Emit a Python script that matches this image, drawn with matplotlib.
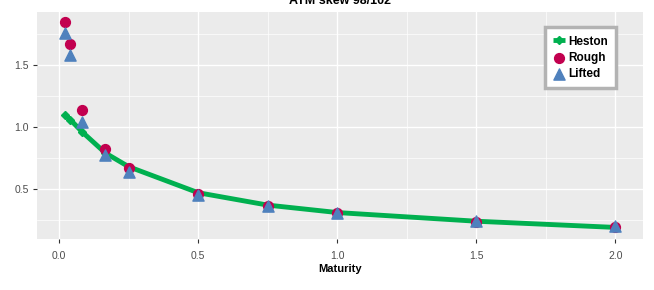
import matplotlib.pyplot as plt
from matplotlib.ticker import MultipleLocator

# ATM skew 98/102 by maturity
maturity = [0.02, 0.04, 1/12, 1/6, 0.25, 0.5, 0.75, 1.0, 1.5, 2.0]
heston = [1.10, 1.06, 0.96, 0.79, 0.68, 0.47, 0.37, 0.31, 0.24, 0.19]
rough = [1.845, 1.665, 1.137, 0.823, 0.669, 0.46, 0.365, 0.305, 0.236, 0.196]
lifted = [1.76, 1.58, 1.04, 0.77, 0.635, 0.45, 0.36, 0.305, 0.238, 0.198]

plt.rcParams['font.family'] = ['Liberation Sans', 'DejaVu Sans']

fig = plt.figure(figsize=(6.54, 2.90), dpi=100)
ax = fig.add_axes([0.0566, 0.176, 0.9266, 0.7826])
ax.set_facecolor('#EBEBEB')

ax.plot(maturity, heston, color='#00B04F', lw=3.5, marker='D', ms=4.5,
        solid_capstyle='butt', label='Heston', zorder=3)
ax.scatter(maturity, rough, s=50, color='#C2004F', marker='o', label='Rough', zorder=4)
ax.scatter(maturity, lifted, s=65, color='#4F81BD', marker='^', label='Lifted', zorder=5)

ax.set_xlim(-0.079, 2.099)
ax.set_ylim(0.097, 1.927)
ax.xaxis.set_minor_locator(MultipleLocator(0.25))
ax.yaxis.set_minor_locator(MultipleLocator(0.25))
ax.set_xticks([0, 0.5, 1.0, 1.5, 2.0])
ax.set_xticklabels(['0.0', '0.5', '1.0', '1.5', '2.0'])
ax.set_yticks([0.5, 1.0, 1.5])
ax.set_yticklabels(['0.5', '1.0', '1.5'])
ax.grid(which='major', color='white', lw=1.0, zorder=0)
ax.grid(which='minor', color='white', lw=0.5, zorder=0)
ax.set_axisbelow(True)
for s in ax.spines.values():
    s.set_visible(False)
ax.tick_params(which='major', length=3, color='#333333', labelsize=7.5, labelcolor='#4D4D4D', pad=3)
ax.tick_params(which='minor', length=0)
ax.tick_params(axis='x', pad=6)

ax.set_xlabel('Maturity', fontsize=8, fontweight='bold', labelpad=2)
fig.text(0.52, 0.995, 'ATM skew 98/102', ha='center', va='center',
         fontsize=9, fontweight='bold')

leg = ax.legend(loc='upper right', bbox_to_anchor=(0.962, 0.948), fontsize=8.5,
                frameon=True, fancybox=False, handlelength=1.0, handletextpad=0.3,
                labelspacing=0.35, borderpad=0.7, borderaxespad=0.3)
for t in leg.get_texts():
    t.set_fontweight('bold')
leg.get_frame().set_edgecolor('#B3B3B3')
leg.get_frame().set_linewidth(2.5)
leg.get_frame().set_facecolor('white')
leg.get_frame().set_alpha(1)

fig.savefig('out.png', dpi=100)
